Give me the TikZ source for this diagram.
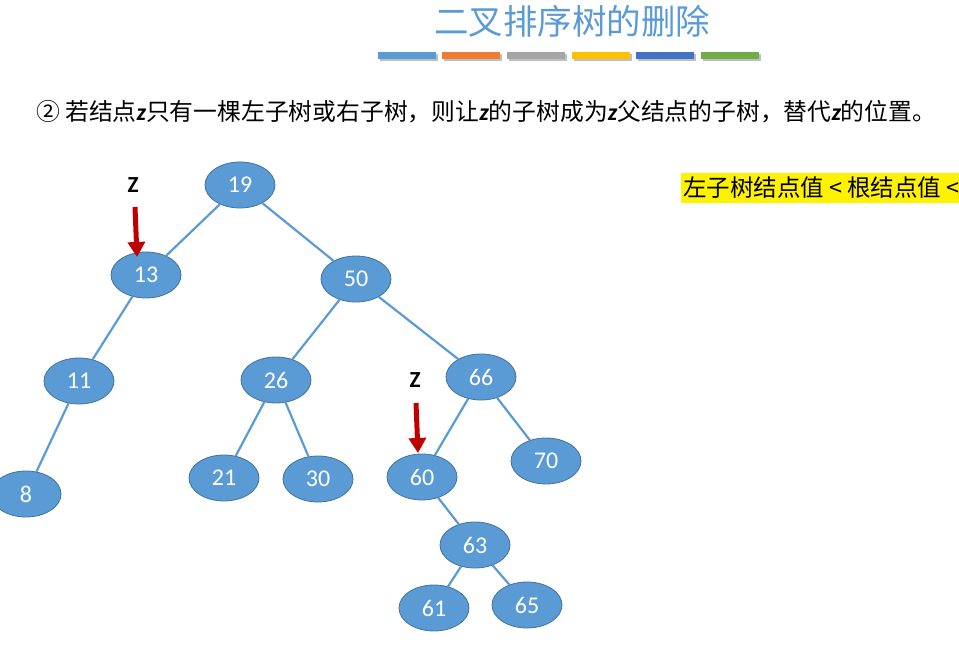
\documentclass[tikz,border=0pt]{standalone}
\usepackage{fontspec}
\setmainfont{Carlito}
\newfontfamily\cjkf{Noto Sans CJK SC}
\newfontfamily\calf{Carlito}
\usetikzlibrary{shapes.geometric,arrows.meta}
\definecolor{nodeblue}{HTML}{5B9BD5}
\definecolor{nodeedge}{HTML}{41719C}
\definecolor{darkred}{HTML}{C00000}
\definecolor{barA}{HTML}{5B9BD5}
\definecolor{barB}{HTML}{ED7D31}
\definecolor{barC}{HTML}{A5A5A5}
\definecolor{barD}{HTML}{FFC000}
\definecolor{barE}{HTML}{4472C4}
\definecolor{barF}{HTML}{70AD47}
\tikzset{
  tnode/.style={ellipse, draw=nodeedge, line width=0.8pt, fill=nodeblue, minimum width=70pt, minimum height=46pt, inner sep=0pt, text=white, font=\calf\fontsize{24}{24}\selectfont},
  tedge/.style={draw=nodeblue, line width=2.2pt},
  zlabel/.style={font=\calf\bfseries\fontsize{23}{23}\selectfont, text=black},
  zarrow/.style={draw=darkred, line width=5pt, -{Triangle[width=17pt,length=15pt]}},
  bar/.style={line width=7pt}
}
\begin{document}
\begin{tikzpicture}[x=1pt,y=-1pt]
\useasboundingbox (0,0) rectangle (959,650);
% title
\node (title) at (572,21) {\cjkf\fontsize{34.5}{34.5}\selectfont\color{nodeblue}二叉排序树的删除};
% bars
\foreach \c/\xa in {barA/378,barB/442,barC/507,barD/572,barE/636,barF/701}{
  \draw[bar, color=black!25] (\xa+1.5,58) -- (\xa+59.5,58);
  \draw[bar, color=\c] (\xa,56) -- (\xa+58,56);
}
% text line
\node[anchor=west, inner sep=0pt] (line) at (36,112) {\cjkf\fontsize{23.8}{23.8}\selectfont ② 若结点{\calf\bfseries\itshape z}只有一棵左子树或右子树，则让{\calf\bfseries\itshape z}的子树成为{\calf\bfseries\itshape z}父结点的子树，替代{\calf\bfseries\itshape z}的位置。};
% yellow box
\node[anchor=west, fill=yellow, inner sep=2pt, minimum height=30pt, text width=300pt] (rule) at (681,188) {\cjkf\fontsize{23.5}{23.5}\selectfont 左子树结点值\hspace{5pt}<\hspace{5pt}根结点值\hspace{5pt}<};
% nodes
\node[tnode] (n19) at (240,185) {19};
\node[tnode] (n13) at (146,275) {13};
\node[tnode] (n50) at (356,279) {50};
\node[tnode] (n11) at (79,381) {11};
\node[tnode] (n26) at (276,380) {26};
\node[tnode] (n66) at (481,377) {66};
\node[tnode] (n8) at (26,494) {8};
\node[tnode] (n21) at (224,478) {21};
\node[tnode] (n30) at (318,479) {30};
\node[tnode] (n60) at (422,477) {60};
\node[tnode] (n70) at (546,461) {70};
\node[tnode] (n63) at (475,545) {63};
\node[tnode] (n61) at (434,608) {61};
\node[tnode] (n65) at (527,605) {65};
% edges
\draw[tedge] (n19) -- (n13);
\draw[tedge] (n19) -- (n50);
\draw[tedge] (n13) -- (n11);
\draw[tedge] (n11) -- (n8);
\draw[tedge] (n50) -- (n26);
\draw[tedge] (n50) -- (n66);
\draw[tedge] (n26) -- (n21);
\draw[tedge] (n26) -- (n30);
\draw[tedge] (n66) -- (n60);
\draw[tedge] (n66) -- (n70);
\draw[tedge] (n60) -- (n63);
\draw[tedge] (n63) -- (n61);
\draw[tedge] (n63) -- (n65);
% z markers
\node[zlabel] (z1) at (133,185) {Z};
\coordinate (z1a) at (135,207);
\coordinate (z1b) at (137,257);
\draw[zarrow] (z1a) -- (z1b);
\node[zlabel] (z2) at (415,380) {Z};
\coordinate (z2a) at (416,403);
\coordinate (z2b) at (418,453);
\draw[zarrow] (z2a) -- (z2b);
\end{tikzpicture}
\end{document}
